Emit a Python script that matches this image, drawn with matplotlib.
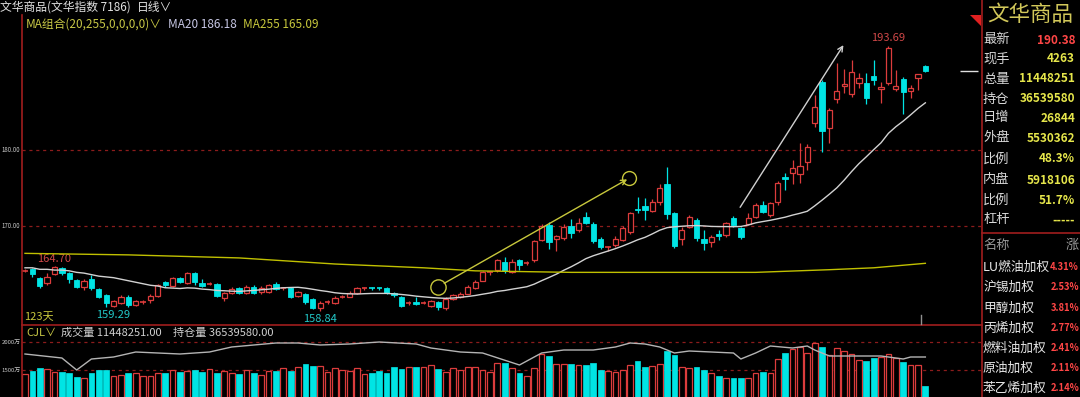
import numpy as np
import pandas as pd
import matplotlib
matplotlib.use("Agg")
import matplotlib.pyplot as plt
from matplotlib.patches import Rectangle, Polygon
from matplotlib.lines import Line2D

plt.rcParams['font.family'] = ['Noto Sans CJK SC', 'DejaVu Sans']

# ---------------- data ----------------
opens = [164.1, 164.3, 163.2, 162.5, 163.7, 164.5, 163.8, 162.9, 162.0, 163.0,
         161.7, 160.9, 159.5, 159.9, 160.7, 159.6, 160.0, 160.3, 160.8, 162.6,
         162.1, 163.2, 162.5, 163.8, 162.5, 162.4, 162.4, 160.5, 161.2, 161.8,
         161.2, 162.0, 161.3, 161.3, 162.4, 161.8, 161.8, 160.8, 161.1, 160.4,
         159.2, 160.0, 159.9, 160.7, 160.7, 161.2, 161.8, 161.85, 161.85, 161.8,
         161.2, 160.7, 159.9, 160.0, 159.9, 159.5, 160.0, 159.2, 160.4, 160.7,
         161.1, 161.8, 162.8, 163.9, 164.2, 165.3, 163.9, 165.5, 165.1, 165.5,
         168.2, 170.1, 168.3, 168.4, 170.0, 169.5, 171.2, 170.3, 168.3, 167.2,
         167.5, 168.2, 169.2, 172.3, 172.6, 172.0, 173.2, 175.5, 171.7, 168.3,
         169.9, 170.8, 168.3, 167.9, 168.9, 168.8, 171.1, 169.7, 170.3, 171.2,
         172.8, 171.4, 173.2, 176.4, 177.0, 176.8, 178.4, 183.6, 188.9, 182.9,
         186.7, 188.4, 187.4, 188.8, 188.8, 189.7, 188.0, 188.8, 188.0, 189.3,
         187.8, 189.5, 191.1]
highs = [164.3, 164.5, 163.3, 163.8, 164.7, 164.6, 163.9, 163.0, 163.0, 163.55,
         161.8, 161.0, 160.3, 160.9, 160.9, 160.3, 160.3, 161.0, 162.4, 162.7,
         163.3, 163.3, 164.0, 164.0, 163.0, 162.6, 162.5, 161.3, 162.0, 162.0,
         162.2, 162.2, 162.1, 162.4, 162.6, 162.0, 162.0, 161.5, 161.2, 160.5,
         160.1, 160.3, 160.8, 160.9, 161.4, 162.0, 162.0, 162.0, 162.0, 162.0,
         161.3, 160.8, 160.1, 160.7, 160.1, 160.3, 160.1, 160.6, 161.1, 161.3,
         162.2, 162.9, 164.1, 164.1, 165.7, 165.9, 165.6, 165.7, 165.4, 168.2,
         170.2, 170.5, 168.8, 170.3, 170.9, 171.1, 171.8, 170.5, 168.5, 167.4,
         168.7, 170.0, 171.9, 173.8, 173.7, 173.6, 175.5, 177.8, 171.8, 169.9,
         171.4, 171.0, 169.5, 168.8, 169.5, 170.5, 171.3, 169.9, 171.7, 173.0,
         173.3, 173.2, 175.9, 177.0, 178.7, 180.9, 180.8, 187.2, 189.2, 185.5,
         191.4, 190.7, 191.8, 190.1, 190.1, 191.8, 188.9, 193.69, 190.5, 189.6,
         188.6, 190.0, 191.2]
lows = [163.9, 163.3, 161.8, 162.2, 163.5, 163.6, 162.5, 161.8, 161.6, 161.6,
        160.5, 159.29, 159.35, 159.7, 159.4, 159.5, 159.7, 159.9, 160.7, 162.0,
        162.0, 162.5, 162.4, 162.2, 162.0, 162.2, 160.6, 160.1, 161.0, 161.0,
        161.0, 161.0, 161.1, 161.2, 161.6, 161.6, 160.5, 160.6, 159.8, 159.1,
        158.84, 159.7, 159.7, 160.5, 160.6, 161.1, 161.6, 161.6, 161.6, 161.1,
        160.6, 159.4, 159.6, 159.6, 159.7, 159.4, 158.95, 159.0, 160.2, 160.5,
        161.0, 161.7, 162.7, 163.6, 164.0, 163.8, 163.8, 164.2, 164.9, 165.3,
        168.0, 167.0, 166.7, 168.1, 168.4, 169.2, 170.2, 167.8, 167.0, 166.7,
        167.2, 168.0, 169.0, 171.7, 170.8, 171.8, 172.8, 170.9, 167.1, 167.5,
        169.7, 168.0, 166.8, 167.2, 168.2, 168.6, 169.9, 168.3, 170.1, 171.0,
        171.7, 171.2, 172.8, 174.7, 175.5, 175.7, 177.4, 183.0, 179.7, 180.9,
        186.2, 187.5, 187.0, 188.2, 186.1, 188.6, 186.2, 188.6, 187.8, 184.7,
        186.8, 187.9, 190.3]
closes = [164.1, 163.7, 162.1, 163.3, 164.6, 163.8, 163.0, 162.0, 162.8, 161.8,
          160.7, 159.9, 160.1, 160.7, 159.6, 160.1, 160.0, 160.8, 162.2, 162.2,
          163.2, 162.6, 163.8, 162.6, 162.1, 162.4, 160.8, 161.2, 161.7, 161.2,
          162.0, 161.2, 161.8, 162.2, 161.7, 161.8, 160.7, 161.3, 160.0, 159.2,
          159.9, 160.0, 160.5, 160.7, 161.2, 161.8, 161.8, 161.8, 161.8, 161.2,
          160.9, 159.5, 159.9, 159.7, 159.9, 160.1, 159.3, 160.4, 160.9, 161.1,
          162.0, 162.6, 163.9, 163.9, 165.5, 164.1, 165.3, 164.9, 165.1, 168.0,
          170.0, 167.9, 168.7, 169.9, 169.1, 170.4, 170.4, 168.0, 167.2, 167.2,
          168.3, 169.7, 171.7, 172.1, 172.1, 173.2, 175.0, 171.6, 167.4, 169.5,
          171.2, 168.4, 167.8, 168.6, 168.7, 170.4, 170.1, 168.6, 171.1, 172.8,
          171.8, 173.0, 175.7, 176.2, 177.6, 177.9, 180.4, 185.7, 182.5, 185.3,
          187.8, 188.7, 190.3, 189.5, 186.8, 189.2, 188.3, 193.4, 188.4, 187.6,
          188.2, 190.0, 190.38]
# volume in 万
volumes = [1429, 1482, 1536, 1518, 1464, 1464, 1446, 1375, 1357, 1446,
           1500, 1500, 1393, 1411, 1446, 1446, 1393, 1393, 1446, 1446,
           1500, 1464, 1482, 1500, 1464, 1518, 1446, 1482, 1446, 1429,
           1500, 1446, 1411, 1482, 1482, 1536, 1482, 1554, 1607, 1571,
           1571, 1464, 1536, 1500, 1482, 1536, 1429, 1446, 1482, 1446,
           1554, 1518, 1554, 1554, 1554, 1589, 1518, 1464, 1536, 1500,
           1554, 1554, 1500, 1464, 1625, 1631, 1530, 1452, 1393, 1530,
           1786, 1750, 1602, 1607, 1607, 1589, 1589, 1631, 1500, 1482,
           1458, 1500, 1589, 1661, 1548, 1571, 1607, 1845, 1768, 1560,
           1530, 1548, 1500, 1440, 1393, 1363, 1352, 1363, 1352, 1452,
           1470, 1452, 1696, 1798, 1870, 1905, 1809, 1988, 1905, 1768,
           1887, 1839, 1786, 1679, 1666, 1709, 1727, 1780, 1709, 1649,
           1589, 1589, 1214]
# MA20 for the first 19 days (history before the window)
ma20_head = [164.5, 164.5, 164.3, 164.3, 164.2, 164.2, 164.1, 163.9, 163.8, 163.6,
             163.4, 163.3, 163.2, 163.0, 162.8, 162.6, 162.4, 162.2, 162.1]
ma20_latest = 186.18
ma255_idx = [1, 15, 30, 43, 55, 62, 75, 90, 100, 110, 116, 123]
ma255_val = [166.4, 166.2, 165.8, 165.0, 164.5, 164.1, 163.9, 163.9, 163.9, 164.25, 164.5, 165.09]
# open interest (万)
oi_idx = [1, 6, 8, 10, 13, 16, 22, 26, 29, 35, 38, 41, 45, 49, 54, 56, 60, 63, 68, 71,
          74, 78, 81, 83, 85, 87, 89, 91, 94, 97, 98, 100, 102, 105, 107, 108, 110, 117,
          120, 121, 123]
oi_val = [3684, 3644, 3524, 3634, 3654, 3704, 3684, 3704, 3754, 3794, 3794, 3774, 3784,
          3804, 3784, 3744, 3704, 3694, 3574, 3694, 3724, 3724, 3754, 3794, 3784, 3754,
          3694, 3714, 3704, 3694, 3634, 3694, 3764, 3744, 3764, 3724, 3664, 3664, 3634,
          3654, 3654]
price_ticks = [180, 170]
vol_ticks = [2000, 1500]

stats_labels = ["最新", "现手", "总量", "持仓", "日增", "外盘", "比例", "内盘", "比例", "杠杆"]
stats_values = ["190.38", "4263", "11448251", "36539580", "26844", "5530362", "48.3%",
                "5918106", "51.7%", "-----"]
list_names = ["LU燃油加权", "沪锡加权", "甲醇加权", "丙烯加权", "燃料油加权", "原油加权", "苯乙烯加权"]
list_values = ["4.31%", "2.53%", "3.81%", "2.77%", "2.41%", "2.11%", "2.14%"]

# ---------------- styling ----------------
W, H = 1080, 397
BG = 'black'
RED = '#dc3c3c'
CYAN = '#00e4e4'
BORDER = '#a01e1e'
GRID = '#8c1c1c'
YEL = '#c8c83c'
MA20C = '#d2d2d2'

fig = plt.figure(figsize=(W / 100, H / 100), dpi=100, facecolor=BG)


def fbox(x0, y0, x1, y1):
    return [x0 / W, 1 - y1 / H, (x1 - x0) / W, (y1 - y0) / H]


def ftext(px, py, s, **kw):
    kw.setdefault('va', 'center')
    return fig.text(px / W, 1 - py / H, s, **kw)


def fline(xs, ys, **kw):
    fig.add_artist(Line2D([x / W for x in xs], [1 - y / H for y in ys],
                          transform=fig.transFigure, **kw))


n = len(closes)
idx = np.arange(1, n + 1)
o = np.array(opens); c = np.array(closes); hi = np.array(highs); lo = np.array(lows)
up = c >= o

# layout: candle 1 centred at px 25, 7.38 px per candle
PPC = 7.38
X_LEFT, X_RIGHT = 22, 981
xlim = (1 - (25 - X_LEFT) / PPC, 1 + (X_RIGHT - 25) / PPC)

# ---------------- main price panel ----------------
ax = fig.add_axes(fbox(X_LEFT, 15, X_RIGHT, 325))
ax.set_facecolor(BG)
ax.set_xlim(*xlim)
ax.set_ylim(180 - 175 / 7.6, 180 + 135 / 7.6)
ax.axis('off')

for lvl in price_ticks:
    ax.axhline(lvl, color=GRID, lw=0.9, ls=(0, (2.5, 3)), zorder=1)

bw = 0.72
ax.vlines(idx[up], lo[up], hi[up], color=RED, lw=0.9, zorder=2)
ax.vlines(idx[~up], lo[~up], hi[~up], color=CYAN, lw=0.9, zorder=2)
for i in range(n):
    bot = min(o[i], c[i]); h = abs(c[i] - o[i])
    if h < 0.12:
        ax.hlines((o[i] + c[i]) / 2, idx[i] - bw / 2, idx[i] + bw / 2,
                  color=RED if up[i] else CYAN, lw=1.2, zorder=3)
    elif up[i]:
        ax.add_patch(Rectangle((idx[i] - bw / 2, bot), bw, h, facecolor=BG,
                               edgecolor=RED, lw=0.9, zorder=3))
    else:
        ax.add_patch(Rectangle((idx[i] - bw / 2, bot), bw, h, facecolor=CYAN,
                               edgecolor=CYAN, lw=0.6, zorder=3))

ma20 = pd.Series(closes).rolling(20).mean().to_numpy()
ma20[:19] = ma20_head
ax.plot(idx, ma20, color=MA20C, lw=1.0, zorder=4)
ax.plot(ma255_idx, ma255_val, color='#c0c000', lw=1.0, zorder=4)

# annotations
ax.plot([56.9], [161.93], 'o', ms=11, mfc='none', mec=YEL, mew=1.0, zorder=5)
ax.plot([82.9], [176.28], 'o', ms=10, mfc='none', mec=YEL, mew=1.0, zorder=5)
ax.annotate('', xy=(82.6, 176.14), xytext=(57.8, 162.46),
            arrowprops=dict(arrowstyle='->', color=YEL, lw=1.0, shrinkA=0, shrinkB=0,
                            mutation_scale=9), zorder=5)
ax.annotate('', xy=(111.9, 193.8), xytext=(97.9, 172.46),
            arrowprops=dict(arrowstyle='->', color='#d0d0d0', lw=1.0, shrinkA=0, shrinkB=0,
                            mutation_scale=9), zorder=5)

# extreme labels
imax = int(np.argmax(hi)); imin = int(np.argmin(lo))
ax.text(idx[imax] - 2.3, hi[imax] + 1.1, f"{hi[imax]:.2f}", color='#d04848', fontsize=8,
        ha='left', va='center')
ax.text(idx[4] - 2.4, hi[4] + 1.0, f"{hi[4]:.2f}", color='#d04848', fontsize=8,
        ha='left', va='center')
ax.text(idx[11] - 1.4, lo[11] - 1.05, f"{lo[11]:.2f}", color='#22c8c8', fontsize=8,
        ha='left', va='center')
ax.text(idx[imin] - 2.3, lo[imin] - 1.05, f"{lo[imin]:.2f}", color='#22c8c8', fontsize=8,
        ha='left', va='center')
ax.text(xlim[0] + 0.3, lo[imin] - 0.8, f"{n}天", color='#c8c83c', fontsize=8,
        ha='left', va='center')

# latest price marker
ax.hlines(closes[-1], 1 + (960 - 25) / PPC, 1 + (978 - 25) / PPC, color='#e0e0e0', lw=1.0,
          clip_on=False)

# ---------------- volume panel ----------------
vax = fig.add_axes(fbox(X_LEFT, 325, X_RIGHT, 397))
vax.set_facecolor(BG)
vax.set_xlim(*xlim)
vscale = 500 / 28.0
vax.set_ylim(1500 - 27 * vscale, 2000 + 17 * vscale)
vax.axis('off')
for lvl in vol_ticks:
    vax.axhline(lvl, color=GRID, lw=0.9, ls=(0, (2.5, 3)), zorder=1)
vw = 0.78
for i in range(n):
    if up[i]:
        vax.add_patch(Rectangle((idx[i] - vw / 2, 0), vw, volumes[i], facecolor=BG,
                                edgecolor=RED, lw=0.9, zorder=2))
    else:
        vax.add_patch(Rectangle((idx[i] - vw / 2, 0), vw, volumes[i], facecolor=CYAN,
                                edgecolor=CYAN, lw=0.5, zorder=2))
oax = vax.twinx()
oax.set_xlim(*xlim)
oax.set_ylim(3654 - 400, 3654 + 320)
oax.axis('off')
oax.plot(oi_idx, oi_val, color='#b4b4b4', lw=1.0, zorder=3)

# ---------------- frame lines ----------------
fline([22, 22], [15, 397], color=BORDER, lw=1.2)
fline([22, 982], [325, 325], color=BORDER, lw=1.2)
fline([982, 982], [0, 397], color=BORDER, lw=1.2)
fline([982, 1080], [233, 233], color=BORDER, lw=1.2)
fline([921, 921], [315, 324], color='#909090', lw=1.0)
fig.add_artist(Polygon([(970 / W, 1 - 15 / H), (981 / W, 1 - 15 / H), (981 / W, 1 - 26 / H)],
                       closed=True, transform=fig.transFigure, facecolor='#e02020',
                       edgecolor='none'))

# ---------------- header texts ----------------
ftext(0, 7, "文华商品(文华指数 7186)", color='#e0e0e0', fontsize=8.5, ha='left')
ftext(137, 7, "日线∨", color='#e0e0e0', fontsize=8.5, ha='left')
ftext(26, 24, "MA组合(20,255,0,0,0,0)∨", color='#c8c846', fontsize=8.5, ha='left')
ftext(168, 24, f"MA20 {ma20_latest:.2f}", color='#c8c8e6', fontsize=8.5, ha='left')
ftext(243, 24, f"MA255 {ma255_val[-1]:.2f}", color='#c8c83c', fontsize=8.5, ha='left')

for lvl, py in zip(price_ticks, [150, 226]):
    ftext(20.5, py, f"{lvl:.2f}", color='#c8c8c8', fontsize=4.4, ha='right')
for lvl, py in zip(vol_ticks, [342, 370]):
    ftext(20.5, py, f"{lvl}万", color='#c8c8c8', fontsize=4.3, ha='right')

ftext(26, 333, "CJL∨", color='#c8c846', fontsize=8, ha='left')
ftext(61, 333, "成交量 11448251.00", color='#d0d0d0', fontsize=8, ha='left')
ftext(173, 333, "持仓量 36539580.00", color='#d0d0d0', fontsize=8, ha='left')

# ---------------- right info panel ----------------
ftext(987, 15, "文华商品", color='#d2c85a', fontsize=15.5, ha='left')
ys = [40, 59, 79, 99, 118, 138, 159, 180, 200, 220]
for k, (lab, val) in enumerate(zip(stats_labels, stats_values)):
    ftext(983, ys[k], lab, color='#d8d8d8', fontsize=9.5, ha='left')
    col = '#ff4646' if k == 0 else '#e6e64b'
    ftext(1075, ys[k], val, color=col, fontsize=8.5, ha='right', fontweight='bold')

ftext(983, 245, "名称", color='#9a9a9a', fontsize=9.5, ha='left')
ftext(1066, 245, "涨", color='#9a9a9a', fontsize=9.5, ha='left')
lys = [267, 287, 308, 328, 348, 368, 388]
for k, (nm, val) in enumerate(zip(list_names, list_values)):
    ftext(983, lys[k], nm, color='#e6e6e6', fontsize=9.2, ha='left')
    ftext(1079, lys[k], val, color='#ff4646', fontsize=6.8, ha='right', fontweight='bold')

fig.savefig("out.png", dpi=100, facecolor=BG)
